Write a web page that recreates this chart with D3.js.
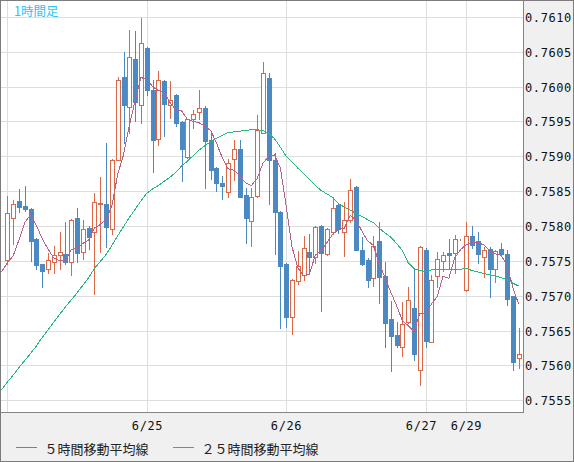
<!DOCTYPE html>
<html>
<head>
<meta charset="utf-8">
<script src="https://cdn.jsdelivr.net/npm/d3@7"></script>
<style>
  html, body { margin: 0; padding: 0; background: #f0f0f0; }
  svg { display: block; }
</style>
</head>
<body>
<svg id="chart" width="574" height="462"></svg>
<script>
// ---- data (1-hour candles, AUD/USD style quotes) ----
const open = [
  0.75751,0.75812,0.75836,0.75828,0.75824,0.75781,0.75745,0.75739,0.75748,0.75758,
  0.75760,0.75748,0.75811,0.75763,0.75797,0.75791,0.75832,0.75831,0.75795,0.75895,
  0.76013,0.75970,0.76039,0.75973,0.76055,0.75995,0.75925,0.76008,0.75974,0.75988,
  0.75949,0.75899,0.75954,0.75963,0.75969,0.75923,0.75883,0.75862,0.75849,0.75896,
  0.75910,0.75844,0.75807,0.75843,0.75934,0.76012,0.75894,0.75820,0.75746,0.75670,
  0.75721,0.75729,0.75762,0.75756,0.75800,0.75760,0.75791,0.75830,0.75791,0.75808,
  0.75856,0.75766,0.75751,0.75726,0.75778,0.75728,0.75667,0.75643,0.75626,0.75662,
  0.75683,0.75594,0.75765,0.75634,0.75728,0.75750,0.75761,0.75761,0.75781,0.75708,
  0.75785,0.75779,0.75756,0.75767,0.75739,0.75767,0.75760,0.75699,0.75610
];
const high = [
  0.75843,0.75837,0.75853,0.75857,0.75826,0.75783,0.75746,0.75761,0.75771,0.75791,
  0.75806,0.75810,0.75826,0.75808,0.75800,0.75847,0.75870,0.75919,0.75896,0.76014,
  0.76049,0.76081,0.76079,0.76098,0.76057,0.76009,0.76022,0.76010,0.76008,0.75989,
  0.75950,0.75954,0.75967,0.75995,0.75972,0.75934,0.75884,0.75872,0.75896,0.75924,
  0.75924,0.75855,0.75855,0.75959,0.76035,0.76019,0.75904,0.75821,0.75747,0.75724,
  0.75764,0.75786,0.75788,0.75800,0.75801,0.75797,0.75842,0.75831,0.75834,0.75867,
  0.75857,0.75784,0.75754,0.75785,0.75806,0.75748,0.75693,0.75662,0.75691,0.75713,
  0.75739,0.75771,0.75768,0.75730,0.75763,0.75763,0.75782,0.75787,0.75782,0.75805,
  0.75800,0.75791,0.75770,0.75770,0.75766,0.75776,0.75766,0.75700,0.75653
];
const low = [
  0.75746,0.75774,0.75820,0.75822,0.75750,0.75738,0.75713,0.75732,0.75733,0.75738,
  0.75745,0.75729,0.75748,0.75753,0.75767,0.75703,0.75762,0.75770,0.75789,0.75894,
  0.75919,0.75934,0.75951,0.75947,0.75988,0.75878,0.75916,0.75929,0.75955,0.75943,
  0.75865,0.75897,0.75940,0.75954,0.75855,0.75868,0.75850,0.75838,0.75842,0.75866,
  0.75841,0.75775,0.75772,0.75842,0.75933,0.75832,0.75760,0.75653,0.75655,0.75645,
  0.75717,0.75722,0.75734,0.75747,0.75678,0.75759,0.75788,0.75790,0.75757,0.75806,
  0.75765,0.75744,0.75713,0.75714,0.75690,0.75626,0.75592,0.75626,0.75614,0.75661,
  0.75608,0.75572,0.75626,0.75633,0.75713,0.75736,0.75739,0.75733,0.75780,0.75707,
  0.75768,0.75747,0.75727,0.75698,0.75720,0.75759,0.75686,0.75594,0.75596
];
const close = [
  0.75818,0.75831,0.75827,0.75824,0.75779,0.75744,0.75736,0.75751,0.75759,0.75762,
  0.75748,0.75809,0.75761,0.75796,0.75784,0.75834,0.75833,0.75798,0.75895,0.76010,
  0.75973,0.76043,0.75978,0.76062,0.75995,0.75923,0.76010,0.75975,0.75980,0.75948,
  0.75910,0.75953,0.75961,0.75969,0.75922,0.75881,0.75861,0.75857,0.75890,0.75910,
  0.75842,0.75811,0.75841,0.75937,0.76019,0.75894,0.75820,0.75743,0.75669,0.75723,
  0.75743,0.75768,0.75756,0.75799,0.75761,0.75796,0.75826,0.75795,0.75808,0.75851,
  0.75766,0.75746,0.75723,0.75772,0.75727,0.75661,0.75642,0.75630,0.75660,0.75694,
  0.75616,0.75770,0.75635,0.75722,0.75753,0.75758,0.75758,0.75781,0.75781,0.75785,
  0.75773,0.75760,0.75766,0.75738,0.75764,0.75760,0.75695,0.75605,0.75616
];

// moving averages as plotted; first value belongs to the hour before the first visible candle
const maStartIndex = -1;
const ma5 = [
  0.75734,
  0.75747,0.75757,0.75780,0.75805,0.75816,0.75801,0.75782,0.75767,0.75754,0.75750,
  0.75751,0.75766,0.75768,0.75775,0.75780,0.75797,0.75802,0.75809,0.75829,0.75874,
  0.75902,0.75944,0.75980,0.76013,0.76010,0.76000,0.75994,0.75993,0.75977,0.75967,
  0.75965,0.75953,0.75950,0.75948,0.75943,0.75937,0.75919,0.75898,0.75882,0.75880,
  0.75872,0.75862,0.75858,0.75868,0.75890,0.75900,0.75902,0.75883,0.75829,0.75770,
  0.75740,0.75729,0.75731,0.75758,0.75765,0.75776,0.75788,0.75795,0.75797,0.75815,
  0.75809,0.75793,0.75779,0.75772,0.75747,0.75726,0.75705,0.75686,0.75664,0.75657,
  0.75649,0.75674,0.75675,0.75688,0.75699,0.75728,0.75725,0.75754,0.75766,0.75773,
  0.75776,0.75776,0.75773,0.75765,0.75760,0.75758,0.75744,0.75712,0.75688
];
const ma25 = [
  0.75565,
  0.75576,0.75586,0.75597,0.75607,0.75617,0.75628,0.75640,0.75651,0.75662,0.75673,
  0.75684,0.75694,0.75704,0.75715,0.75726,0.75739,0.75749,0.75759,0.75772,0.75786,
  0.75799,0.75812,0.75824,0.75836,0.75847,0.75853,0.75858,0.75864,0.75870,0.75877,
  0.75886,0.75893,0.75901,0.75909,0.75915,0.75921,0.75926,0.75930,0.75934,0.75935,
  0.75936,0.75937,0.75938,0.75938,0.75937,0.75933,0.75925,0.75913,0.75900,0.75892,
  0.75883,0.75875,0.75867,0.75858,0.75851,0.75846,0.75841,0.75832,0.75827,0.75823,
  0.75818,0.75814,0.75809,0.75805,0.75797,0.75790,0.75784,0.75775,0.75765,0.75747,
  0.75739,0.75736,0.75735,0.75737,0.75737,0.75737,0.75738,0.75738,0.75738,0.75739,
  0.75736,0.75734,0.75732,0.75730,0.75728,0.75726,0.75723,0.75718,0.75714
];

// day boundaries (candle index) and their labels
const dayTickIndex = [0, 24, 48, 72, 79];
const dayTickLabels = ["6/24", "6/25", "6/26", "6/27", "6/29"];
// price ticks
const priceTicks = [0.7555,0.7560,0.7565,0.7570,0.7575,0.7580,0.7585,0.7590,0.7595,0.7600,0.7605,0.7610];

const titleText = "1時間足";
const legendLabels = ["５時間移動平均線", "２５時間移動平均線"];

// ---- styles ----
const colUp = "#dc6747", colDown = "#4b89c2";
const colMA5 = "#b5628f", colMA25 = "#2bb67c";
const gridCol = "#dedede";

const W = 574, H = 462;
const plot = { left: 1, top: 1, right: 523, bottom: 412 };

const svg = d3.select("#chart");
svg.append("rect").attr("x", 0.5).attr("y", 0.5).attr("width", W - 1).attr("height", H - 1)
  .attr("fill", "#f0f0f0").attr("stroke", "#7c7c7c");
svg.append("rect").attr("x", plot.left).attr("y", plot.top)
  .attr("width", plot.right - plot.left).attr("height", plot.bottom - plot.top).attr("fill", "#fff");

svg.append("clipPath").attr("id", "clip").append("rect")
  .attr("x", plot.left).attr("y", plot.top)
  .attr("width", plot.right - plot.left).attr("height", plot.bottom - plot.top);

const x = d3.scaleLinear().domain([-1, 89]).range([1.5, 524.4]);
const y = d3.scaleLinear().domain([0.7555, 0.7610]).range([400.3, 16.8]);
const px = i => Math.round(x(i));
const py = v => Math.round(y(v));

const g = svg.append("g").attr("clip-path", "url(#clip)");

// grid
g.append("g").selectAll("line").data(priceTicks).join("line")
  .attr("x1", plot.left).attr("x2", plot.right)
  .attr("y1", d => py(d) + 0.5).attr("y2", d => py(d) + 0.5)
  .attr("stroke", gridCol).attr("shape-rendering", "crispEdges");
g.append("g").selectAll("line").data(dayTickIndex).join("line")
  .attr("x1", d => px(d) + 0.5).attr("x2", d => px(d) + 0.5)
  .attr("y1", plot.top).attr("y2", plot.bottom)
  .attr("stroke", gridCol).attr("shape-rendering", "crispEdges");

// candles
const idx = d3.range(open.length);
const cg = g.append("g").attr("shape-rendering", "crispEdges");
idx.forEach(i => {
  const up = close[i] >= open[i];
  const cx = px(i);
  const col = up ? colUp : colDown;
  cg.append("line").attr("x1", cx + 0.5).attr("x2", cx + 0.5)
    .attr("y1", py(high[i])).attr("y2", py(low[i]) + 1).attr("stroke", col);
  const top = py(Math.max(open[i], close[i]));
  const bot = py(Math.min(open[i], close[i]));
  if (up) {
    cg.append("rect").attr("x", cx - 1.5).attr("y", top + 0.5)
      .attr("width", 4).attr("height", Math.max(0, bot - top))
      .attr("fill", "#fff").attr("stroke", col);
  } else {
    cg.append("rect").attr("x", cx - 2).attr("y", top)
      .attr("width", 5).attr("height", Math.max(1, bot - top + 1))
      .attr("fill", col);
  }
});

// moving averages
const line = d3.line().x((d, k) => x(k + maStartIndex)).y(d => y(d));
g.append("path").datum(ma25).attr("d", line).attr("fill", "none").attr("stroke", colMA25)
  .attr("stroke-width", 1).attr("shape-rendering", "crispEdges");
g.append("path").datum(ma5).attr("d", line).attr("fill", "none").attr("stroke", colMA5)
  .attr("stroke-width", 1).attr("shape-rendering", "crispEdges");

// plot border (right & bottom)
svg.append("path").attr("d", `M${plot.right + 0.5},${plot.top}V${plot.bottom + 0.5}H${plot.left}`)
  .attr("fill", "none").attr("stroke", "#858585").attr("shape-rendering", "crispEdges");

// y labels
svg.append("g").selectAll("text").data(priceTicks).join("text")
  .attr("x", 525).attr("y", d => py(d) + 1)
  .attr("dominant-baseline", "central")
  .attr("font-family", "'DejaVu Sans Mono', monospace").attr("font-size", 12)
  .attr("letter-spacing", 0.6).attr("fill", "#111")
  .text(d => d3.format(".4f")(d));

// x labels: skip those clipped at the left edge, nudge crowded ones left
const labW = 30, minGap = 15;
let labs = dayTickIndex.map((d, k) => ({ cx: px(d) + 0.5, t: dayTickLabels[k] }))
  .filter(o => o.cx - labW / 2 >= plot.left);
for (let k = labs.length - 2; k >= 0; k--) {
  const over = (labs[k].cx + labW / 2 + minGap) - (labs[k + 1].cx - labW / 2);
  if (over > 0) labs[k].cx -= over;
}
svg.append("g").selectAll("text").data(labs).join("text")
  .attr("x", d => d.cx).attr("y", 426)
  .attr("text-anchor", "middle").attr("dominant-baseline", "central")
  .attr("font-family", "'DejaVu Sans Mono', monospace").attr("font-size", 12)
  .attr("letter-spacing", 0.6).attr("fill", "#111")
  .text(d => d.t);

// title
svg.append("text").attr("x", 14).attr("y", 10).attr("dominant-baseline", "central")
  .attr("font-family", "'Noto Sans CJK JP', sans-serif").attr("font-size", 12.5)
  .attr("fill", "#2ec4f5").text(titleText);

// legend
const legX = [16, 173];
const legCols = [colMA5, colMA25];
legendLabels.forEach((t, k) => {
  svg.append("line").attr("x1", legX[k]).attr("x2", legX[k] + 21)
    .attr("y1", 447.5).attr("y2", 447.5).attr("stroke", legCols[k]);
  svg.append("text").attr("x", legX[k] + 28.5).attr("y", 448)
    .attr("dominant-baseline", "central")
    .attr("font-family", "'Noto Sans CJK JP', sans-serif").attr("font-size", 13)
    .attr("fill", "#222").text(t);
});
</script>
</body>
</html>
